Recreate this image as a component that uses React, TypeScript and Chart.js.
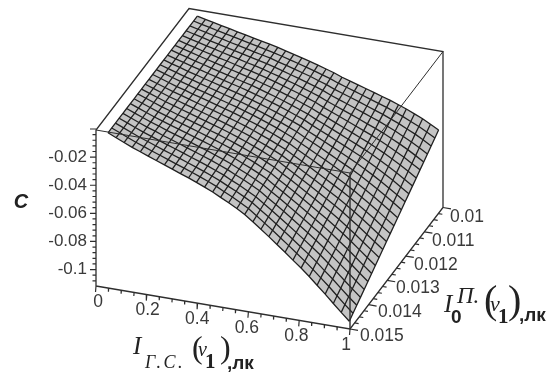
import React, { useEffect, useRef } from "react";
import { Chart, registerables } from "chart.js";

Chart.register(...registerables);

// Light intensity along the first axis, lx
const xValues = [0.04,0.072,0.103,0.135,0.167,0.198,0.23,0.262,0.293,0.325,0.357,0.388,0.42,0.452,0.483,0.515,0.547,0.578,0.61,0.642,0.673,0.705,0.737,0.768,0.8,0.832,0.863,0.895,0.927,0.958,0.99];
// Light intensity along the second axis, lx
const yValues = [0.0149,0.0147,0.0145,0.0143,0.0141,0.0139,0.0137,0.0135,0.0133,0.0131,0.0129,0.0127,0.0125,0.0123,0.0121,0.0119,0.0117,0.0115,0.0113,0.0111,0.0109,0.0107,0.0105,0.0103,0.0101];
// Magnitude of C in thousandths: one row per yValues entry, one column per xValues entry
const cMilli = [
[3.2,5.7,8.2,10.7,12.8,15.0,17.1,19.2,21.3,23.5,25.6,27.8,30.2,32.7,35.6,38.4,41.6,44.8,49.1,53.4,57.7,62.3,66.9,71.5,76.2,81.2,86.5,91.8,97.5,102.9,108.2],
[3.2,5.6,8.1,10.5,12.6,14.8,16.8,18.9,21.0,23.1,25.2,27.4,29.7,32.2,35.0,37.8,40.9,44.1,48.3,52.5,56.7,61.1,65.6,70.1,74.7,79.6,84.7,89.9,95.5,100.8,106.0],
[3.2,5.6,8.0,10.4,12.4,14.5,16.6,18.6,20.6,22.7,24.8,26.9,29.2,31.7,34.5,37.2,40.2,43.3,47.4,51.5,55.6,60.0,64.4,68.7,73.2,77.9,83.0,88.0,93.5,98.7,103.8],
[3.2,5.5,7.9,10.2,12.2,14.3,16.3,18.3,20.3,22.4,24.4,26.5,28.8,31.1,33.9,36.5,39.6,42.6,46.6,50.6,54.6,58.8,63.1,67.3,71.7,76.3,81.2,86.2,91.5,96.5,101.6],
[3.2,5.5,7.8,10.1,12.0,14.1,16.0,18.0,20.0,22.0,24.0,26.0,28.3,30.6,33.3,35.9,38.9,41.8,45.8,49.7,53.5,57.7,61.8,65.9,70.2,74.7,79.4,84.3,89.4,94.4,99.4],
[3.2,5.5,7.7,9.9,11.8,13.9,15.8,17.7,19.6,21.6,23.5,25.6,27.8,30.1,32.7,35.3,38.2,41.1,45.0,48.7,52.5,56.5,60.5,64.5,68.6,73.0,77.7,82.4,87.4,92.3,97.2],
[3.2,5.4,7.6,9.8,11.7,13.6,15.5,17.4,19.3,21.2,23.1,25.2,27.3,29.6,32.2,34.7,37.5,40.4,44.1,47.8,51.5,55.4,59.3,63.2,67.1,71.4,75.9,80.5,85.4,90.2,95.0],
[3.2,5.4,7.5,9.6,11.5,13.4,15.2,17.1,18.9,20.9,22.7,24.7,26.9,29.1,31.6,34.1,36.9,39.6,43.3,46.9,50.4,54.2,58.0,61.8,65.6,69.8,74.1,78.6,83.4,88.1,92.7],
[3.2,5.3,7.4,9.5,11.3,13.2,15.0,16.8,18.6,20.5,22.3,24.3,26.4,28.6,31.0,33.4,36.2,38.9,42.5,45.9,49.4,53.0,56.7,60.4,64.1,68.1,72.4,76.7,81.4,85.9,90.5],
[3.2,5.3,7.3,9.3,11.1,12.9,14.7,16.5,18.3,20.1,21.9,23.8,25.9,28.1,30.4,32.8,35.5,38.1,41.6,45.0,48.3,51.9,55.4,59.0,62.6,66.5,70.6,74.9,79.4,83.8,88.3],
[3.2,5.2,7.2,9.2,10.9,12.7,14.4,16.2,17.9,19.7,21.5,23.4,25.4,27.5,29.9,32.2,34.8,37.4,40.8,44.1,47.3,50.7,54.2,57.6,61.1,64.9,68.8,73.0,77.3,81.7,86.1],
[3.2,5.2,7.1,9.0,10.7,12.5,14.2,15.9,17.6,19.3,21.1,22.9,24.9,27.0,29.3,31.6,34.1,36.6,40.0,43.1,46.2,49.6,52.9,56.2,59.6,63.2,67.1,71.1,75.3,79.6,83.9],
[3.2,5.1,7.0,8.9,10.5,12.3,13.9,15.6,17.3,19.0,20.7,22.5,24.5,26.5,28.7,31.0,33.5,35.9,39.2,42.2,45.2,48.4,51.6,54.8,58.1,61.6,65.3,69.2,73.3,77.5,81.7],
[3.2,5.1,6.9,8.7,10.3,12.0,13.6,15.3,16.9,18.6,20.2,22.1,24.0,26.0,28.1,30.3,32.8,35.2,38.3,41.3,44.2,47.2,50.3,53.4,56.5,60.0,63.5,67.3,71.3,75.3,79.5],
[3.2,5.0,6.7,8.5,10.1,11.8,13.4,15.0,16.6,18.2,19.8,21.6,23.5,25.5,27.6,29.7,32.1,34.4,37.5,40.3,43.1,46.1,49.1,52.0,55.0,58.3,61.8,65.4,69.3,73.2,77.3],
[3.2,5.0,6.6,8.4,9.9,11.6,13.1,14.7,16.2,17.8,19.4,21.2,23.0,25.0,27.0,29.1,31.4,33.7,36.7,39.4,42.1,44.9,47.8,50.6,53.5,56.7,60.0,63.6,67.3,71.1,75.1],
[3.2,4.9,6.5,8.2,9.7,11.3,12.8,14.4,15.9,17.4,19.0,20.7,22.5,24.4,26.4,28.5,30.7,32.9,35.8,38.5,41.0,43.8,46.5,49.2,52.0,55.1,58.2,61.7,65.2,69.0,72.9],
[3.2,4.9,6.4,8.1,9.5,11.1,12.6,14.1,15.6,17.1,18.6,20.3,22.1,23.9,25.8,27.9,30.1,32.2,35.0,37.5,40.0,42.6,45.2,47.8,50.5,53.4,56.5,59.8,63.2,66.9,70.7],
[3.2,4.8,6.3,7.9,9.4,10.9,12.3,13.8,15.2,16.7,18.2,19.9,21.6,23.4,25.3,27.2,29.4,31.5,34.2,36.6,39.0,41.5,44.0,46.5,49.0,51.8,54.7,57.9,61.2,64.7,68.5],
[3.2,4.8,6.2,7.8,9.2,10.7,12.0,13.5,14.9,16.3,17.8,19.4,21.1,22.9,24.7,26.6,28.7,30.7,33.4,35.7,37.9,40.3,42.7,45.1,47.5,50.2,52.9,56.0,59.2,62.6,66.2],
[3.2,4.7,6.1,7.6,9.0,10.4,11.8,13.2,14.6,15.9,17.4,19.0,20.6,22.4,24.1,26.0,28.0,30.0,32.5,34.7,36.9,39.1,41.4,43.7,46.0,48.5,51.2,54.1,57.2,60.5,64.0],
[3.2,4.7,6.0,7.5,8.8,10.2,11.5,12.9,14.2,15.5,16.9,18.5,20.1,21.9,23.5,25.4,27.3,29.2,31.7,33.8,35.8,38.0,40.1,42.3,44.4,46.9,49.4,52.3,55.2,58.4,61.8],
[3.2,4.6,5.9,7.3,8.6,10.0,11.2,12.6,13.9,15.2,16.5,18.1,19.7,21.3,23.0,24.7,26.7,28.5,30.9,32.9,34.8,36.8,38.9,40.9,42.9,45.3,47.6,50.4,53.1,56.2,59.6],
[3.2,4.6,5.8,7.2,8.4,9.7,11.0,12.3,13.5,14.8,16.1,17.6,19.2,20.8,22.4,24.1,26.0,27.7,30.0,31.9,33.7,35.7,37.6,39.5,41.4,43.6,45.9,48.5,51.1,54.1,57.4],
[3.2,4.5,5.7,7.0,8.2,9.5,10.7,12.0,13.2,14.4,15.7,17.2,18.7,20.3,21.8,23.5,25.3,27.0,29.2,31.0,32.7,34.5,36.3,38.1,39.9,42.0,44.1,46.6,49.1,52.0,55.2],
];

const xTicks = [0, 0.2, 0.4, 0.6, 0.8, 1];
const xTickLabels = ["0", "0.2", "0.4", "0.6", "0.8", "1"];
const yTicks = [0.01, 0.011, 0.012, 0.013, 0.014, 0.015];
const yTickLabels = ["0.01", "0.011", "0.012", "0.013", "0.014", "0.015"];
const zTicks = [-0.02, -0.04, -0.06, -0.08, -0.1];
const zTickLabels = ["-0.02", "-0.04", "-0.06", "-0.08", "-0.1"];

const Z_TOP = -0.0007;
const Z_BOTTOM = -0.1117;
const Y_FRONT = 0.015;
const Y_BACK = 0.01;

type P = { x: number; y: number };

function project(x: number, y: number, z: number): P {
  const t = (Y_FRONT - y) / (Y_FRONT - Y_BACK);
  const d = ((Z_TOP - z) / (Z_TOP - Z_BOTTOM)) * 156;
  return { x: 96 + 254 * x + 93 * t, y: 130 + 43 * x - 121.5 * t + d };
}

const GAP: P = { x: NaN, y: NaN };

function surfacePoint(i: number, j: number): P {
  return project(xValues[i], yValues[j], -cMilli[j][i] / 1000);
}

function buildDatasets() {
  const sets: any[] = [];
  const add = (data: P[], color: string, width: number, extra: any = {}) =>
    sets.push({ data, borderColor: color, borderWidth: width, showLine: true, pointRadius: 0, fill: false, tension: 0, spanGaps: false, ...extra });

  const boxColor = "#2e2e2e";
  // back edges of the box, behind the surface
  add([project(0, Y_FRONT, Z_BOTTOM), project(0, Y_FRONT, Z_TOP), project(0, Y_BACK, Z_TOP), project(1, Y_BACK, Z_TOP), project(1, Y_BACK, Z_BOTTOM), project(1, Y_FRONT, Z_BOTTOM), project(0, Y_FRONT, Z_BOTTOM)], boxColor, 1.3);

  // surface fill
  const nx = xValues.length;
  const ny = yValues.length;
  const outline: P[] = [];
  for (let i = 0; i < nx; i++) outline.push(surfacePoint(i, 0));
  for (let j = 1; j < ny; j++) outline.push(surfacePoint(nx - 1, j));
  for (let i = nx - 2; i >= 0; i--) outline.push(surfacePoint(i, ny - 1));
  for (let j = ny - 2; j >= 0; j--) outline.push(surfacePoint(0, j));
  add(outline, "rgba(0,0,0,0)", 0, { fill: "shape", backgroundColor: "#c4c4c4" });

  // mesh
  const mesh = "#202020";
  for (let j = 0; j < ny; j++) add(xValues.map((_, i) => surfacePoint(i, j)), mesh, 1.3);
  for (let i = 0; i < nx; i++) add(yValues.map((_, j) => surfacePoint(i, j)), mesh, 1.3);

  // front edges of the box, over the surface
  add([project(0, Y_FRONT, Z_TOP), project(1, Y_FRONT, Z_TOP), project(1, Y_BACK, Z_TOP)], boxColor, 1);
  add([project(1, Y_FRONT, Z_TOP), project(1, Y_FRONT, Z_BOTTOM)], boxColor, 1.4);

  // tick marks
  const ticks: P[] = [];
  for (let k = 0; k <= 20; k++) {
    const p = project(k * 0.05, Y_FRONT, Z_BOTTOM);
    const len = k % 4 === 0 ? 6 : 3.5;
    ticks.push(p, { x: p.x - len * 0.08, y: p.y + len }, GAP);
  }
  for (let k = 0; k <= 20; k++) {
    const p = project(1, Y_FRONT - k * 0.00025, Z_BOTTOM);
    const len = k % 4 === 0 ? 8 : 4;
    ticks.push(p, { x: p.x + len, y: p.y + len * 0.17 }, GAP);
  }
  for (let k = 0; k <= 27; k++) {
    const p = project(0, Y_FRONT, -k * 0.004);
    if (-k * 0.004 < Z_BOTTOM) continue;
    const len = k % 5 === 0 ? 6 : 3.5;
    ticks.push(p, { x: p.x - len, y: p.y }, GAP);
  }
  add(ticks, "#2e2e2e", 1.2);
  return sets.map((s, i) => ({ ...s, order: 5000 - i }));
}

const labelsPlugin = {
  id: "surfaceLabels",
  afterDraw(chart: any) {
    const ctx = chart.ctx as any;
    const sx = chart.scales.x;
    const sy = chart.scales.y;
    const put = (text: string, x: number, y: number, font: string, align: CanvasTextAlign = "left", base: CanvasTextBaseline = "alphabetic", spacing = "0px") => {
      ctx.font = font;
      ctx.textAlign = align;
      ctx.textBaseline = base;
      ctx.letterSpacing = spacing;
      ctx.fillText(text, sx.getPixelForValue(x), sy.getPixelForValue(y));
    };
    ctx.save();
    ctx.fillStyle = "#3a3a3a";
    const tickFont = '17.5px "Liberation Sans"';
    zTicks.forEach((v, i) => {
      const p = project(0, Y_FRONT, v);
      put(zTickLabels[i], 87, p.y, '17px "Liberation Sans"', "right", "middle");
    });
    xTicks.forEach((v, i) => {
      const p = project(v, Y_FRONT, Z_BOTTOM);
      put(xTickLabels[i], p.x + 2 - 6 * v, p.y + 16, tickFont, "center", "middle");
    });
    yTicks.forEach((v, i) => {
      const p = project(1, v, Z_BOTTOM);
      const t = (Y_FRONT - v) / (Y_FRONT - Y_BACK);
      put(yTickLabels[i], p.x + 10 - 3 * t, p.y + 7 + 3 * t, tickFont, "left", "middle");
    });

    ctx.fillStyle = "#222222";
    put("C", 21, 202, 'italic bold 20px "Liberation Sans"', "center", "middle");

    const serifI = 'italic 25px "Liberation Serif"';
    const paren = '32px "Liberation Serif"';
    const bold = 'bold 19px "Liberation Sans"';
    put("I", 133, 354, serifI);
    put("Г.С.", 145, 368, 'italic 18px "Liberation Serif"', "left", "alphabetic", "2.5px");
    put("(", 192, 358, paren);
    put("v", 198, 356, 'italic 20px "Liberation Serif"');
    put("1", 205, 368, 'bold 21px "Liberation Serif"');
    put(")", 220, 358, paren);
    put(",лк", 227, 369, bold);

    const paren2 = '40px "Liberation Serif"';
    put("I", 444, 312, serifI);
    put("П.", 457, 303, 'italic 23px "Liberation Serif"');
    put("0", 451, 323, 'bold 19px "Liberation Sans"');
    put("(", 484, 313, paren2);
    put("v", 490, 311, 'italic 22px "Liberation Serif"');
    put("1", 498, 323, 'bold 21px "Liberation Serif"');
    put(")", 508, 313, paren2);
    put(",лк", 519, 321, bold);
    ctx.restore();
  },
};

export default function App() {
  const ref = useRef<HTMLCanvasElement>(null);
  useEffect(() => {
    document.body.style.margin = "0";
    document.body.style.background = "#ffffff";
    const chart = new Chart(ref.current as HTMLCanvasElement, {
      type: "scatter",
      data: { datasets: buildDatasets() },
      options: {
        animation: false,
        responsive: false,
        layout: { padding: 0 },
        scales: {
          x: { type: "linear", min: 0, max: 554, display: false },
          y: { type: "linear", min: 0, max: 378, reverse: true, display: false },
        },
        plugins: { legend: { display: false }, tooltip: { enabled: false }, title: { display: false } },
      },
      plugins: [labelsPlugin],
    } as any);
    return () => chart.destroy();
  }, []);
  return <canvas ref={ref} width={554} height={378} style={{ display: "block" }} />;
}
